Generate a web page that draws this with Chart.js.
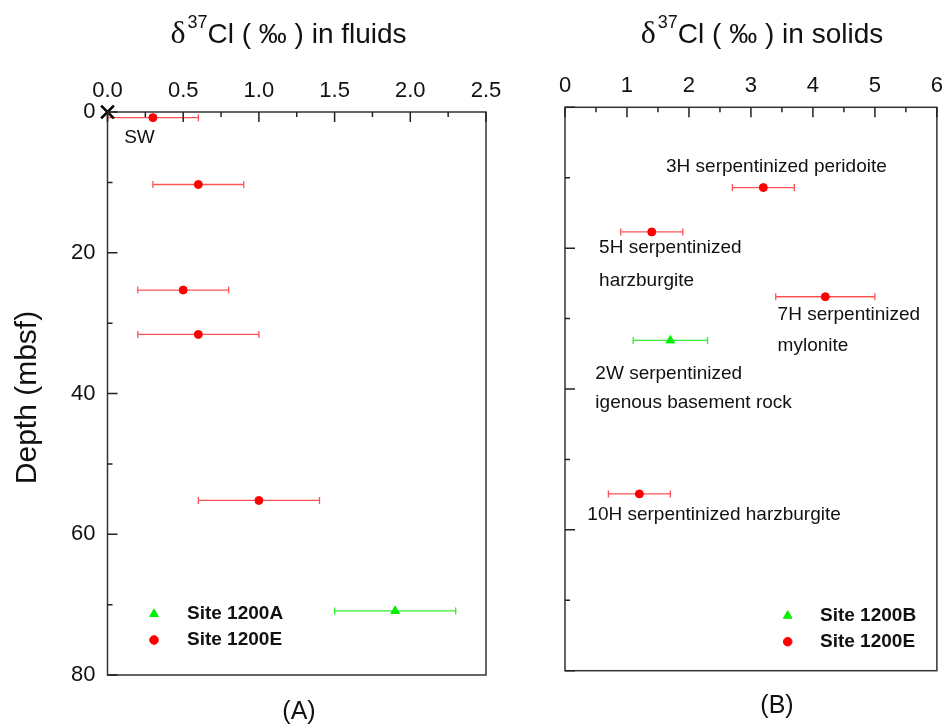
<!DOCTYPE html>
<html>
<head>
<meta charset="utf-8">
<script src="https://cdn.jsdelivr.net/npm/chart.js@4.4.1/dist/chart.umd.min.js"></script>
<title>d37Cl fluids and solids</title>
<style>
  body { margin: 0; background: #fff; }
  canvas { position: absolute; top: 0; }
</style>
</head>
<body>
<canvas id="fluids" width="520" height="727" style="left:0"></canvas>
<canvas id="solids" width="431" height="727" style="left:520px"></canvas>
<script>
// ---- data: fluids (panel A) ----
const fluidE_x     = [0.3, 0.6, 0.5, 0.6, 1.0];
const fluidE_err   = [0.3, 0.3, 0.3, 0.4, 0.4];
const fluidE_depth = [0.8, 10.3, 25.3, 31.6, 55.2];
const fluidA_x     = [1.9];
const fluidA_err   = [0.4];
const fluidA_depth = [70.9];
const seawater_x     = [0];
const seawater_depth = [0];

// ---- data: solids (panel B) ----
const solidE_x     = [3.2, 1.4, 4.2, 1.2];
const solidE_err   = [0.5, 0.5, 0.8, 0.5];
const solidE_depth = [11.4, 17.7, 26.9, 54.9];
const solidB_x     = [1.7];
const solidB_err   = [0.6];
const solidB_depth = [33.1];

const depthTicks = [0, 20, 40, 60, 80];
const fluidTicks = [0, 0.5, 1.0, 1.5, 2.0, 2.5];
const solidTicks = [0, 1, 2, 3, 4, 5, 6];

const FONT = "'Liberation Sans', Arial, sans-serif";
const RED = '#ff0000', GREEN = '#00ee00';

function pts(xs, ys) { return xs.map((v, i) => ({x: v, y: ys[i]})); }

// error bars, frame with inward ticks, labels, legend
const decorPlugin = {
  id: 'decor',
  beforeDatasetsDraw(chart) {
    const ctx = chart.ctx, xs = chart.scales.x, ys = chart.scales.y;
    chart.data.datasets.forEach(ds => {
      if (!ds.xErr) return;
      ctx.save();
      ctx.strokeStyle = ds.barColor;
      ctx.lineWidth = 1.3;
      ds.data.forEach((p, i) => {
        const x1 = xs.getPixelForValue(p.x - ds.xErr[i]);
        const x2 = xs.getPixelForValue(p.x + ds.xErr[i]);
        const y = ys.getPixelForValue(p.y);
        ctx.beginPath();
        ctx.moveTo(x1, y); ctx.lineTo(x2, y);
        ctx.moveTo(x1, y - 3.5); ctx.lineTo(x1, y + 3.5);
        ctx.moveTo(x2, y - 3.5); ctx.lineTo(x2, y + 3.5);
        ctx.stroke();
      });
      ctx.restore();
    });
  },
  afterDraw(chart, args, opts) {
    const ctx = chart.ctx, a = chart.chartArea;
    const xs = chart.scales.x, ys = chart.scales.y;
    ctx.save();
    // frame
    ctx.strokeStyle = '#333';
    ctx.lineWidth = 1.5;
    ctx.strokeRect(a.left, a.top, a.right - a.left, a.bottom - a.top);
    // inward ticks
    ctx.strokeStyle = '#222';
    ctx.beginPath();
    const xt = opts.xTicks;
    xt.forEach((v, i) => {
      const px = xs.getPixelForValue(v);
      ctx.moveTo(px, a.top); ctx.lineTo(px, a.top + 10);
      if (i < xt.length - 1) {
        const pm = xs.getPixelForValue((v + xt[i + 1]) / 2);
        ctx.moveTo(pm, a.top); ctx.lineTo(pm, a.top + 5);
      }
    });
    depthTicks.forEach((v, i) => {
      const py = ys.getPixelForValue(v);
      ctx.moveTo(a.left, py); ctx.lineTo(a.left + 10, py);
      if (i < depthTicks.length - 1) {
        const pm = ys.getPixelForValue((v + depthTicks[i + 1]) / 2);
        ctx.moveTo(a.left, pm); ctx.lineTo(a.left + 5, pm);
      }
    });
    ctx.stroke();

    // annotations placed in data coordinates
    ctx.fillStyle = '#111';
    ctx.font = '19px ' + FONT;
    ctx.textAlign = 'left';
    ctx.textBaseline = 'middle';
    (opts.notes || []).forEach(n => {
      ctx.fillText(n.text, xs.getPixelForValue(n.x), ys.getPixelForValue(n.y));
    });

    // legend inside the plot
    const lg = opts.legend;
    lg.items.forEach((it, i) => {
      const my = a.bottom - lg.fromBottom + i * 26;
      const mx = a.left + lg.markerX;
      ctx.fillStyle = it.color;
      ctx.strokeStyle = it.color;
      ctx.lineWidth = 1;
      Chart.helpers.drawPoint(ctx, {pointStyle: it.style, radius: it.style === 'triangle' ? 5 : 4.3, rotation: 0, borderWidth: 1}, mx, my);
      ctx.fillStyle = '#111';
      ctx.font = 'bold 19px ' + FONT;
      ctx.fillText(it.label, a.left + lg.textX, my);
    });

    // axis title with superscript
    const t = opts.title;
    ctx.fillStyle = '#111';
    ctx.textBaseline = 'alphabetic';
    const fD = '32px "Liberation Serif", "Times New Roman", serif';
    const fS = '18px ' + FONT;
    const fM = '28px ' + FONT;
    ctx.font = fD; const wD = ctx.measureText('δ').width;
    ctx.font = fS; const wS = ctx.measureText('37').width;
    ctx.font = fM; const wM = ctx.measureText(t.rest).width;
    let x0 = t.cx - (wD + 2 + wS + wM) / 2;
    ctx.textAlign = 'left';
    ctx.font = fD; ctx.fillText('δ', x0, 43);
    ctx.font = fS; ctx.fillText('37', x0 + wD + 2, 28);
    ctx.font = fM; ctx.fillText(t.rest, x0 + wD + 2 + wS, 43);

    // panel tag
    ctx.font = '25px ' + FONT;
    ctx.textAlign = 'center';
    ctx.textBaseline = 'middle';
    ctx.fillText(opts.tag.text, opts.tag.x, opts.tag.y);

    // y title
    if (opts.yTitle) {
      ctx.save();
      ctx.translate(28, (a.top + a.bottom) / 2 + 4);
      ctx.rotate(-Math.PI / 2);
      ctx.font = '30px ' + FONT;
      ctx.fillText(opts.yTitle, 0, 0);
      ctx.restore();
    }
    ctx.restore();
  }
};

function makeChart(id, cfg) {
  return new Chart(document.getElementById(id), {
    type: 'scatter',
    data: {datasets: cfg.datasets},
    options: {
      responsive: false,
      animation: false,
      layout: {padding: cfg.padding},
      plugins: {legend: {display: false}, tooltip: {enabled: false}, decor: cfg.decor},
      scales: {
        x: {
          type: 'linear', position: 'top', min: cfg.xMin, max: cfg.xMax,
          afterFit: s => { s.height = cfg.topH; },
          afterBuildTicks: s => { s.ticks = cfg.xTicks.map(v => ({value: v})); },
          ticks: {font: {size: 22, family: FONT}, color: '#111', padding: 8, callback: cfg.xFmt},
          grid: {display: false, drawTicks: false},
          border: {display: false}
        },
        y: {
          type: 'linear', reverse: true, min: 0, max: 80,
          afterFit: s => { s.width = cfg.leftW; },
          afterBuildTicks: s => { s.ticks = depthTicks.map(v => ({value: v})); },
          ticks: {display: cfg.yLabels, font: {size: 22, family: FONT}, color: '#111', padding: 12},
          grid: {display: false, drawTicks: false},
          border: {display: false}
        }
      }
    },
    plugins: [decorPlugin]
  });
}

makeChart('fluids', {
  xMin: 0, xMax: 2.5, xTicks: fluidTicks, xFmt: v => Number(v).toFixed(1),
  topH: 112, leftW: 107.5, yLabels: true,
  padding: {top: 0, left: 0, right: 34, bottom: 52},
  datasets: [
    {label: 'Site 1200A', data: pts(fluidA_x, fluidA_depth), xErr: fluidA_err, barColor: 'rgba(0,230,0,0.8)',
     pointStyle: 'triangle', pointRadius: 5, backgroundColor: GREEN, borderColor: GREEN, borderWidth: 1, clip: false},
    {label: 'Site 1200E', data: pts(fluidE_x, fluidE_depth), xErr: fluidE_err, barColor: 'rgba(255,40,40,0.8)',
     pointStyle: 'circle', pointRadius: 4, backgroundColor: RED, borderColor: RED, borderWidth: 1, clip: false},
    {label: 'seawater', data: pts(seawater_x, seawater_depth),
     pointStyle: 'crossRot', pointRadius: 9, borderColor: '#000', borderWidth: 2.6, clip: false}
  ],
  decor: {
    xTicks: fluidTicks,
    notes: [{text: 'SW', x: 0.11, y: 3.6}],
    legend: {markerX: 46.5, textX: 79.5, fromBottom: 61,
      items: [{label: 'Site 1200A', style: 'triangle', color: GREEN},
              {label: 'Site 1200E', style: 'circle', color: RED}]},
    title: {cx: 288.5, rest: 'Cl ( ‰ ) in fluids'},
    tag: {text: '(A)', x: 299, y: 712},
    yTitle: 'Depth (mbsf)'
  }
});

makeChart('solids', {
  xMin: 0, xMax: 6, xTicks: solidTicks, xFmt: v => String(v),
  topH: 107.3, leftW: 45, yLabels: false,
  padding: {top: 0, left: 0, right: 7.3, bottom: 56.3},
  datasets: [
    {label: 'Site 1200B', data: pts(solidB_x, solidB_depth), xErr: solidB_err, barColor: 'rgba(0,230,0,0.8)',
     pointStyle: 'triangle', pointRadius: 5, backgroundColor: GREEN, borderColor: GREEN, borderWidth: 1, clip: false},
    {label: 'Site 1200E', data: pts(solidE_x, solidE_depth), xErr: solidE_err, barColor: 'rgba(255,40,40,0.8)',
     pointStyle: 'circle', pointRadius: 4, backgroundColor: RED, borderColor: RED, borderWidth: 1, clip: false}
  ],
  decor: {
    xTicks: solidTicks,
    notes: [
      {text: '3H serpentinized peridoite', x: 1.63, y: 8.4},
      {text: '5H serpentinized', x: 0.55, y: 20.0},
      {text: 'harzburgite', x: 0.55, y: 24.6},
      {text: '7H serpentinized', x: 3.43, y: 29.5},
      {text: 'mylonite', x: 3.43, y: 33.9},
      {text: '2W serpentinized', x: 0.49, y: 37.8},
      {text: 'igenous basement rock', x: 0.49, y: 41.9},
      {text: '10H serpentinized harzburgite', x: 0.36, y: 57.9}
    ],
    legend: {markerX: 222.7, textX: 255, fromBottom: 55,
      items: [{label: 'Site 1200B', style: 'triangle', color: GREEN},
              {label: 'Site 1200E', style: 'circle', color: RED}]},
    title: {cx: 242, rest: 'Cl ( ‰ ) in solids'},
    tag: {text: '(B)', x: 257, y: 706}
  }
});
</script>
</body>
</html>
